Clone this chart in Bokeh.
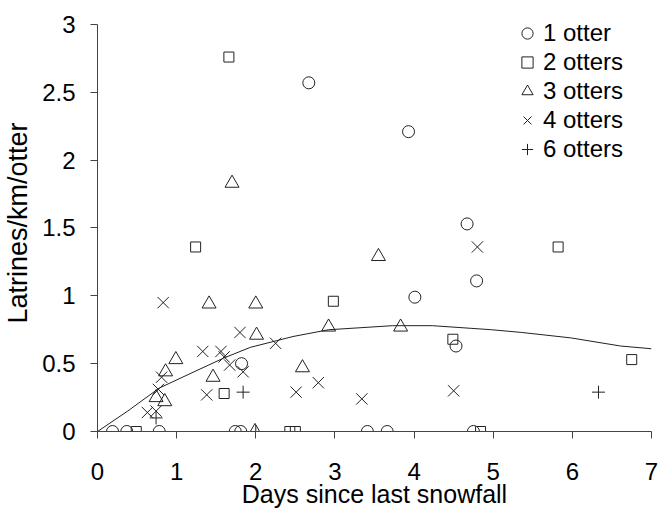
from bokeh.plotting import figure
from bokeh.models import Range1d, Legend, LegendItem, FixedTicker
from bokeh.embed import file_html
from bokeh.resources import INLINE

x_ticks = [0, 1, 2, 3, 4, 5, 6, 7]
y_ticks = [0, 0.5, 1, 1.5, 2, 2.5, 3]
y_tick_labels = {0: "0", 0.5: "0.5", 1: "1", 1.5: "1.5", 2: "2", 2.5: "2.5", 3: "3"}

one_x = [0.19, 0.37, 0.78, 1.74, 1.81, 3.41, 3.66, 4.75, 2.67, 3.93, 4.67, 4.79, 4.01, 4.53, 1.82]
one_y = [0, 0, 0, 0, 0, 0, 0, 0, 2.57, 2.21, 1.53, 1.11, 0.99, 0.63, 0.50]

two_x = [0.49, 2.43, 2.50, 4.84, 1.66, 1.24, 2.98, 5.82, 4.49, 6.75, 1.60]
two_y = [0, 0, 0, 0, 2.76, 1.36, 0.96, 1.36, 0.68, 0.53, 0.28]

three_x = [1.70, 1.41, 2.00, 0.99, 2.01, 0.86, 0.74, 0.85, 1.46, 2.59, 3.55, 2.92, 3.83, 1.99]
three_y = [1.83, 0.94, 0.94, 0.53, 0.71, 0.44, 0.25, 0.22, 0.40, 0.47, 1.29, 0.77, 0.77, 0]

four_x = [0.83, 1.80, 2.25, 1.33, 1.56, 1.60, 1.67, 1.84, 0.81, 0.77, 0.63, 0.74, 1.38, 2.51, 2.79, 3.34, 4.50, 4.80]
four_y = [0.95, 0.73, 0.65, 0.59, 0.59, 0.55, 0.49, 0.44, 0.40, 0.31, 0.14, 0.15, 0.27, 0.29, 0.36, 0.24, 0.30, 1.36]

six_x = [0.74, 1.84, 6.33, 2.00]
six_y = [0.10, 0.29, 0.29, 0]

curve_x = [0, 0.38, 0.78, 1.22, 1.59, 1.93, 2.47, 2.92, 3.73, 4.23, 4.73, 4.98, 5.36, 5.98, 6.61, 7.0]
curve_y = [0, 0.15, 0.32, 0.44, 0.54, 0.62, 0.70, 0.75, 0.78, 0.78, 0.76, 0.75, 0.73, 0.69, 0.63, 0.61]

FONT = "Liberation Sans"
INK = "#222222"

# frame extends a little above y=3 so the legend is not clipped; axis line stops at 3
p = figure(width=658, height=510, output_backend="svg", toolbar_location=None,
           x_range=Range1d(0, 7), y_range=Range1d(0, 3 + 10 / 136),
           min_border_left=93, min_border_right=7, min_border_top=14, min_border_bottom=78)
p.outline_line_color = None
p.grid.visible = False
p.background_fill_color = "white"

p.line(curve_x, curve_y, line_color=INK, line_width=1)

r1 = p.scatter(one_x, one_y, marker="circle", size=12, fill_color=None, line_color=INK, line_width=1)
r2 = p.scatter(two_x, two_y, marker="square", size=10, fill_color=None, line_color=INK, line_width=1)
r3 = p.scatter(three_x, three_y, marker="triangle", size=14, fill_color=None, line_color=INK, line_width=1)
r4 = p.scatter(four_x, four_y, marker="x", size=16, fill_color=None, line_color=INK, line_width=1)
r6 = p.scatter(six_x, six_y, marker="cross", size=13, fill_color=None, line_color=INK, line_width=1)

for ax in (p.xaxis[0], p.yaxis[0]):
    ax.axis_line_color = "#444444"
    ax.major_tick_line_color = "#444444"
    ax.minor_tick_line_color = None
    ax.major_tick_out = 7
    ax.major_tick_in = 0
    ax.major_label_text_font = FONT
    ax.major_label_text_font_size = "24px"
    ax.major_label_text_color = "black"
    ax.axis_label_text_font = FONT
    ax.axis_label_text_font_style = "normal"
    ax.axis_label_text_color = "black"

p.xaxis.axis_label_text_font_size = "25px"
p.yaxis.axis_label_text_font_size = "27px"
p.xaxis.ticker = FixedTicker(ticks=x_ticks)
p.yaxis.ticker = FixedTicker(ticks=y_ticks)
p.yaxis.bounds = (0, 3)
p.yaxis.major_label_overrides = y_tick_labels
p.xaxis.axis_label = "Days since last snowfall"
p.yaxis.axis_label = "Latrines/km/otter"
p.yaxis.major_label_standoff = 15
p.yaxis.axis_label_standoff = 6
p.xaxis.major_label_standoff = 24
p.xaxis.axis_label_standoff = -3

legend = Legend(items=[
    LegendItem(label="1 otter", renderers=[r1]),
    LegendItem(label="2 otters", renderers=[r2]),
    LegendItem(label="3 otters", renderers=[r3]),
    LegendItem(label="4 otters", renderers=[r4]),
    LegendItem(label="6 otters", renderers=[r6]),
], location=(416, 268))
legend.border_line_color = None
legend.background_fill_alpha = 0
legend.label_text_font = FONT
legend.label_text_font_size = "24px"
legend.label_text_color = "black"
legend.glyph_width = 28
legend.glyph_height = 28
legend.label_height = 28
legend.label_standoff = 2
legend.spacing = 1
legend.padding = 0
legend.margin = 0
p.add_layout(legend, "center")

open("out.html", "w").write(file_html(p, INLINE))
